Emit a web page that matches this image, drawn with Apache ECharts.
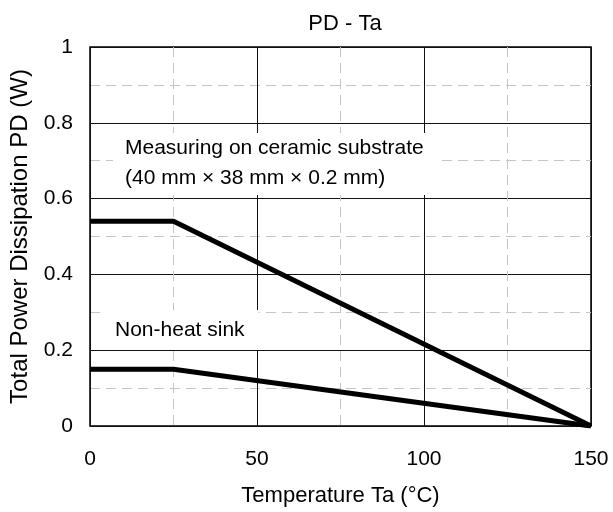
<!DOCTYPE html>
<html>
<head>
<meta charset="utf-8">
<script src="https://cdn.jsdelivr.net/npm/echarts@6/dist/echarts.min.js"></script>
<style>
html,body{margin:0;padding:0;background:#fff;}
#chart{width:613px;height:512px;}
</style>
</head>
<body>
<div id="chart"></div>
<script>
const titleText = 'PD - Ta';
const xName = 'Temperature Ta (°C)';
const yName = 'Total Power Dissipation PD (W)';
const temps = [0, 25, 150];
const ceramic = [0.54, 0.54, 0];
const nonHeatSink = [0.15, 0.15, 0];
const noteCeramic = 'Measuring on ceramic substrate\n(40 mm × 38 mm × 0.2 mm)';
const noteNonHeat = 'Non-heat sink';

const FONT = 'Liberation Sans, Arial, sans-serif';
const chart = echarts.init(document.getElementById('chart'), null, {renderer: 'canvas'});
const pairs = (xs, ys) => xs.map((x, i) => [x, ys[i]]);

chart.setOption({
  animation: false,
  backgroundColor: '#fff',
  title: {
    text: titleText, left: 340, top: 8, textAlign: 'center',
    textStyle: {fontFamily: FONT, fontSize: 22, fontWeight: 'normal', color: '#000'}
  },
  grid: {left: 89, right: 22, top: 47, bottom: 83, show: true, borderColor: '#000', borderWidth: 1.5, backgroundColor: 'transparent'},
  xAxis: {
    type: 'value', min: 0, max: 150, interval: 50,
    name: xName, nameLocation: 'middle', nameGap: 59,
    nameTextStyle: {fontFamily: FONT, fontSize: 22, color: '#000'},
    axisLine: {show: false}, axisTick: {show: false},
    axisLabel: {fontFamily: FONT, fontSize: 21, color: '#000', margin: 23},
    splitLine: {show: true, lineStyle: {color: '#111', width: 1}},
    minorTick: {show: false, splitNumber: 2},
    minorSplitLine: {show: true, lineStyle: {color: '#c4c4c4', width: 1, type: [10, 6]}}
  },
  yAxis: {
    type: 'value', min: 0, max: 1, interval: 0.2,
    name: yName, nameLocation: 'middle', nameGap: 58,
    nameTextStyle: {fontFamily: FONT, fontSize: 24, color: '#000'},
    axisLine: {show: false}, axisTick: {show: false},
    axisLabel: {fontFamily: FONT, fontSize: 21, color: '#000', margin: 17},
    splitLine: {show: true, lineStyle: {color: '#111', width: 1}},
    minorTick: {show: false, splitNumber: 2},
    minorSplitLine: {show: true, lineStyle: {color: '#c4c4c4', width: 1, type: [10, 6]}}
  },
  graphic: [
    {
      type: 'text', left: 113, top: 133, z: 100,
      style: {
        text: noteCeramic, fontFamily: FONT, fontSize: 21, fill: '#000',
        lineHeight: 30, backgroundColor: '#fff', padding: [0, 12, 2, 12]
      }
    },
    {
      type: 'text', left: 104, top: 310, z: 100,
      style: {
        text: noteNonHeat, fontFamily: FONT, fontSize: 21, fill: '#000',
        lineHeight: 24, backgroundColor: '#fff', padding: [8, 14, 8, 11]
      }
    }
  ],
  series: [
    {type: 'line', data: pairs(temps, ceramic), showSymbol: false, symbol: 'none',
     lineStyle: {color: '#000', width: 5}, z: 10},
    {type: 'line', data: pairs(temps, nonHeatSink), showSymbol: false, symbol: 'none',
     lineStyle: {color: '#000', width: 5}, z: 10}
  ]
});
</script>
</body>
</html>
